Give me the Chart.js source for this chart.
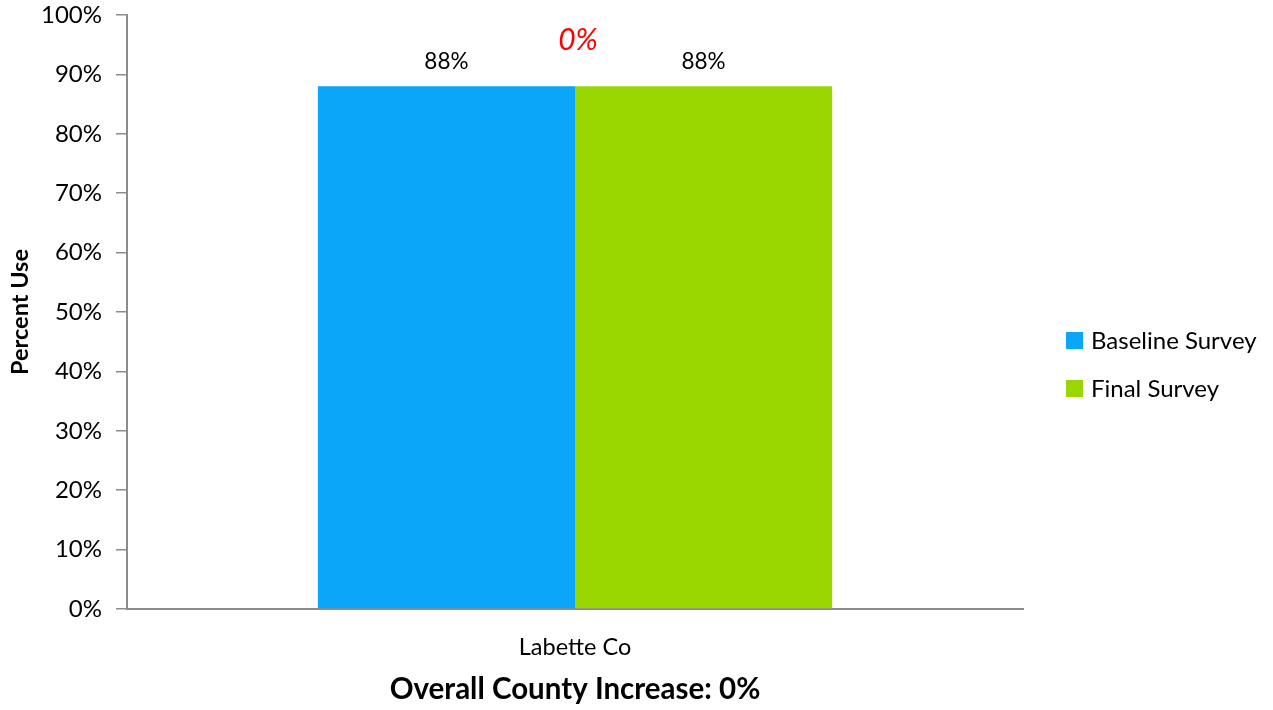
<!DOCTYPE html>
<html>
<head>
<meta charset="utf-8">
<script src="https://cdn.jsdelivr.net/npm/chart.js@4/dist/chart.umd.min.js"></script>
<style>
html,body{margin:0;padding:0;background:#fff;}
#wrap{position:relative;width:1273px;height:710px;}
</style>
</head>
<body>
<div id="wrap"><canvas id="c" width="1273" height="710"></canvas></div>
<script>
const categories = ['Labette Co'];
const seriesNames = ['Baseline Survey', 'Final Survey'];
const baselineValues = [88];
const finalValues = [88];
const increaseLabels = ['0%'];
const yAxisTitle = 'Percent Use';
const bottomTitle = 'Overall County Increase: 0%';
const colors = ['#0ca6f9', '#99d700'];

const FONT = 'Lato, "Liberation Sans", sans-serif';

const labelPlugin = {
  id: 'labels',
  afterDatasetsDraw(chart) {
    const ctx = chart.ctx;
    ctx.save();
    ctx.textAlign = 'center';
    ctx.textBaseline = 'middle';
    chart.data.datasets.forEach((ds, di) => {
      const meta = chart.getDatasetMeta(di);
      meta.data.forEach((bar, i) => {
        ctx.fillStyle = '#000';
        ctx.font = '22.5px ' + FONT;
        ctx.fillText(ds.data[i] + '%', bar.x, bar.y - 25);
      });
    });
    const m0 = chart.getDatasetMeta(0), m1 = chart.getDatasetMeta(1);
    m0.data.forEach((bar, i) => {
      const b2 = m1.data[i];
      const x = (bar.x + b2.x) / 2;
      const y = Math.min(bar.y, b2.y) - 46;
      ctx.fillStyle = '#ff0000';
      ctx.font = 'italic 30px ' + FONT;
      ctx.fillText(increaseLabels[i], x + 3, y);
    });
    ctx.textAlign = 'left';
    seriesNames.forEach((name, k) => {
      const yc = 340 + k * 48;
      ctx.fillStyle = colors[k];
      ctx.fillRect(1066, yc - 8, 17, 17);
      ctx.fillStyle = '#000';
      ctx.font = '24px ' + FONT;
      ctx.fillText(name, 1091, yc + 1);
    });
    ctx.restore();
  }
};

new Chart(document.getElementById('c'), {
  type: 'bar',
  data: {
    labels: categories,
    datasets: [
      { label: seriesNames[0], data: baselineValues, backgroundColor: colors[0], categoryPercentage: 0.574, barPercentage: 1.0 },
      { label: seriesNames[1], data: finalValues, backgroundColor: colors[1], categoryPercentage: 0.574, barPercentage: 1.0 }
    ]
  },
  options: {
    responsive: false,
    animation: false,
    devicePixelRatio: 1,
    layout: { padding: { top: 15, right: 250, left: 0, bottom: 0 } },
    plugins: { legend: { display: false }, tooltip: { enabled: false }, title: { display: false } },
    scales: {
      y: {
        min: 0, max: 100,
        ticks: { stepSize: 10, callback: v => v + '%', color: '#000', font: { size: 24, family: FONT }, padding: 14 },
        grid: { drawOnChartArea: false, drawTicks: true, tickLength: 11, color: '#8c8c8c', lineWidth: 1.5 },
        border: { display: true, color: '#8c8c8c', width: 2 },
        title: { display: true, text: yAxisTitle, color: '#000', font: { size: 23.5, weight: 'bold', family: FONT }, padding: { top: 6, bottom: 0 } },
        afterFit(scale) { scale.width = 127; scale.paddingTop = 0; scale.paddingBottom = 0; }
      },
      x: {
        ticks: { color: '#000', font: { size: 23.5, family: FONT }, padding: 24 },
        grid: { display: false, drawTicks: false },
        border: { display: true, color: '#8c8c8c', width: 2 },
        title: { display: true, text: bottomTitle, color: '#000', font: { size: 29.5, weight: 'bold', family: FONT }, padding: { top: 10, bottom: 3 } },
        afterFit(scale) { scale.height = 101; scale.paddingLeft = 0; scale.paddingRight = 0; }
      }
    }
  },
  plugins: [labelPlugin]
});
</script>
</body>
</html>
